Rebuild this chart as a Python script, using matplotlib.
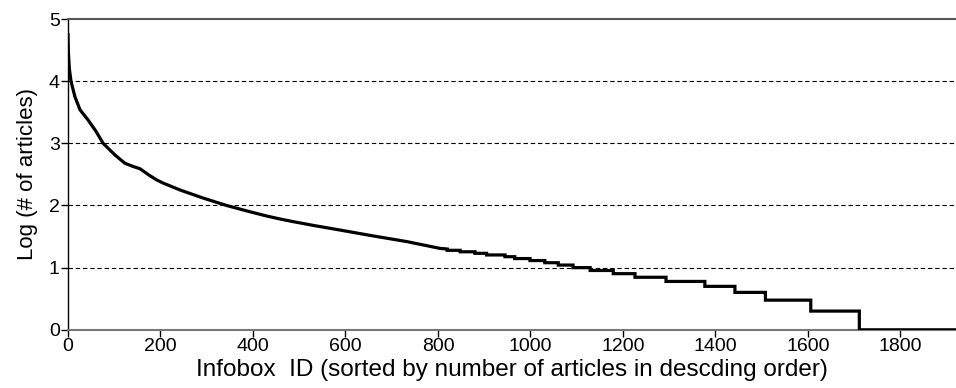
import numpy as np
import matplotlib.pyplot as plt

plt.rcParams['font.family'] = ['Liberation Sans', 'DejaVu Sans']

# --- smooth head of the curve ---
head_x = [0, 1, 3, 6.5, 15, 26, 43, 60, 76, 102, 123, 140, 156, 175, 192, 206,
          242, 292, 343, 393, 430, 460, 487, 530, 588, 660, 732, 804, 820]
head_y = [4.75, 4.45, 4.2, 4.0, 3.75, 3.54, 3.38, 3.2, 3.0, 2.81, 2.68, 2.63,
          2.59, 2.49, 2.41, 2.36, 2.25, 2.12, 2.0, 1.90, 1.83, 1.78, 1.74,
          1.68, 1.605, 1.51, 1.42, 1.31, 1.30]

# --- stepped tail: article count per infobox and last rank at that count ---
tail_counts = [19, 18, 17, 16, 15, 14, 13, 12, 11, 10, 9, 8, 7, 6, 5, 4, 3, 2, 1]
tail_end = [848, 880, 905, 945, 966, 999, 1031, 1060, 1092, 1129, 1179, 1226,
            1293, 1377, 1442, 1508, 1606, 1711, 1920]

xticks = [0, 200, 400, 600, 800, 1000, 1200, 1400, 1600, 1800]
yticks = [0, 1, 2, 3, 4, 5]

fig = plt.figure(figsize=(9.56, 3.88), dpi=100)
ax = fig.add_axes([0.0711, 0.150, 0.9289, 0.801])

# build the step tail as a polyline
tx = [head_x[-1]]
for c, e in zip(tail_counts, tail_end):
    tx += [tx[-1], e]
tx = tx[1:]
ty = []
for c in tail_counts:
    ty += [np.log10(c), np.log10(c)]

xs = head_x + tx
ys = head_y + ty
ax.plot(xs, ys, color='black', lw=2.3, solid_joinstyle='miter', zorder=3)

for v in [1, 2, 3, 4]:
    ax.axhline(v, color='black', lw=0.8, ls=(0, (4, 2.5)), zorder=1)

ax.set_xlim(0, 1920)
ax.set_ylim(0, 5)
ax.set_xticks(xticks)
ax.set_yticks(yticks)
ax.tick_params(labelsize=14, length=5, width=1, direction='out', pad=1)

ax.spines['right'].set_visible(False)
ax.spines['top'].set_color('#555555')
ax.spines['top'].set_linewidth(1.5)
ax.spines['bottom'].set_color('#777777')
ax.spines['bottom'].set_linewidth(1.5)
ax.spines['left'].set_color('black')
ax.spines['left'].set_linewidth(1.0)

ax.set_xlabel('Infobox  ID (sorted by number of articles in descding order)',
              fontsize=17.5, labelpad=3)
ax.set_ylabel('Log (# of articles)', fontsize=16, labelpad=8)

fig.savefig('out.png', dpi=100)
